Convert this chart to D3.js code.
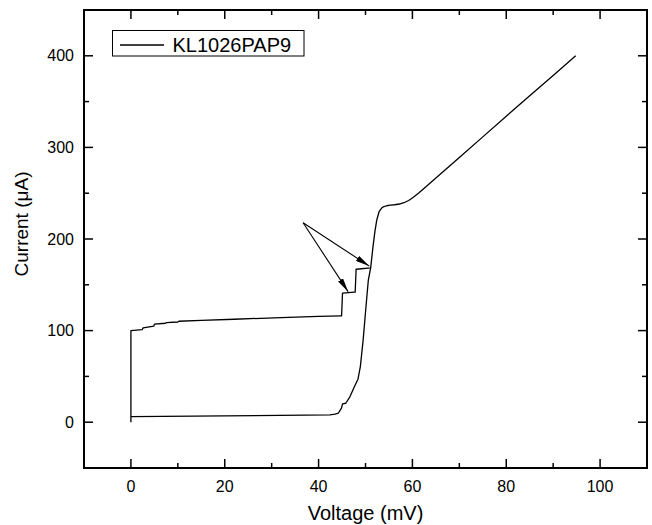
<!DOCTYPE html>
<html>
<head>
<meta charset="utf-8">
<script src="https://cdn.jsdelivr.net/npm/d3@7"></script>
<style>
  body { margin: 0; background: #fff; }
  svg text { font-family: "Liberation Sans", Arial, sans-serif; fill: #000; }
</style>
</head>
<body>
<div id="chart"></div>
<script>
/* sweep with the supercurrent + step branch, then the resistive branch */
const upVoltage = [0, 0, 2.4, 2.6, 4.9, 5.0, 7.4, 7.5, 10.0, 10.2, 15, 22, 32, 40, 44.7,
    44.9, 45.1, 47.6, 47.8, 48.0, 51.1, 51.6, 52.0, 52.4, 52.9, 53.4, 53.8, 54.5, 55.3, 56.2,
    57.2, 58.2, 59.2, 60.2, 61.4, 63, 65, 70, 75, 80, 85, 90, 94.8];
const upCurrent = [0, 100, 101, 103, 105, 107, 108, 108.8, 109.4, 110.2, 111.2, 112.4, 114.2, 115.5, 116,
    116, 141, 142, 142, 167, 168.4, 191.6, 208, 220.7, 229.8, 233.5, 235.2, 236.3, 236.9, 237.4,
    238.2, 239.6, 242, 245.5, 250.5, 257.5, 266.5, 289, 311.5, 334, 356.5, 378.5, 400];

/* lower (return) branch */
const downVoltage = [0, 20, 42.4, 43.5, 44.2, 44.9, 45.1, 45.8, 46.7, 47.7, 48.4, 48.9, 49.5, 50.1, 50.6, 51.1];
const downCurrent = [6.1, 6.8, 8, 8.8, 9.8, 15.6, 20, 20.7, 28, 39.6, 46.9, 60.7, 89.8, 126, 155, 168.4];

const xTicks = [0, 20, 40, 60, 80, 100];
const yTicks = [0, 100, 200, 300, 400];
const seriesName = 'KL1026PAP9';

/* arrows pointing at the two steps: from [V, I] to [V, I] */
const arrowFrom = [36.7, 217.8];
const arrowTips = [[46.3, 142.5], [50.8, 170.4]];

const wSvg = 652, hSvg = 525;
const margin = { left: 84, right: 5, top: 10, bottom: 57 };

const svg = d3.select('#chart').append('svg')
    .attr('width', wSvg)
    .attr('height', hSvg);

const xScale = d3.scaleLinear([-10, 110], [margin.left, wSvg - margin.right]);
const yScale = d3.scaleLinear([-50, 450], [hSvg - margin.bottom, margin.top]);

const majorLen = 9, minorLen = 5;
const xMinor = d3.range(10, 101, 20);
const yMinor = d3.range(50, 351, 100);

// ticks on all four sides, pointing inward
const tickG = svg.append('g').attr('stroke', '#000').attr('stroke-width', 1.5);
const x0 = xScale.range()[0], x1 = xScale.range()[1];
const y0 = yScale.range()[0], y1 = yScale.range()[1];

xTicks.concat(xMinor).forEach(v => {
    const len = xTicks.includes(v) ? majorLen : minorLen;
    const x = xScale(v);
    tickG.append('line').attr('x1', x).attr('x2', x).attr('y1', y0).attr('y2', y0 - len);
    tickG.append('line').attr('x1', x).attr('x2', x).attr('y1', y1).attr('y2', y1 + len);
});
yTicks.concat(yMinor).forEach(v => {
    const len = yTicks.includes(v) ? majorLen : minorLen;
    const y = yScale(v);
    tickG.append('line').attr('x1', x0).attr('x2', x0 + len).attr('y1', y).attr('y2', y);
    tickG.append('line').attr('x1', x1).attr('x2', x1 - len).attr('y1', y).attr('y2', y);
});

// frame
svg.append('rect')
    .attr('x', x0).attr('y', y1)
    .attr('width', x1 - x0).attr('height', y0 - y1)
    .attr('fill', 'none').attr('stroke', '#000').attr('stroke-width', 2);

// tick labels
svg.append('g').selectAll('text')
    .data(xTicks)
    .enter().append('text')
        .attr('x', d => xScale(d))
        .attr('y', y0 + 24)
        .attr('text-anchor', 'middle')
        .style('font-size', '16px')
        .text(d => d);

svg.append('g').selectAll('text')
    .data(yTicks)
    .enter().append('text')
        .attr('x', x0 - 10)
        .attr('y', d => yScale(d) + 5.5)
        .attr('text-anchor', 'end')
        .style('font-size', '16px')
        .text(d => d);

// axis titles
svg.append('text')
    .attr('x', (x0 + x1) / 2)
    .attr('y', 520)
    .attr('text-anchor', 'middle')
    .style('font-size', '20px')
    .text('Voltage (mV)');

svg.append('text')
    .attr('transform', 'translate(28, 224) rotate(-90)')
    .attr('text-anchor', 'middle')
    .style('font-size', '19px')
    .text('Current (\u03BCA)');

// curves
const line = d3.line()
    .x(d => xScale(d[0]))
    .y(d => yScale(d[1]));

const upData = upVoltage.map((v, i) => [v, upCurrent[i]]);
const downData = downVoltage.map((v, i) => [v, downCurrent[i]]);

svg.append('path')
    .datum(upData)
    .attr('d', line)
    .attr('fill', 'none').attr('stroke', '#000').attr('stroke-width', 1.3)
    .attr('stroke-linejoin', 'round');

svg.append('path')
    .datum(downData)
    .attr('d', line)
    .attr('fill', 'none').attr('stroke', '#000').attr('stroke-width', 1.3)
    .attr('stroke-linejoin', 'round');

// arrows
svg.append('defs').append('marker')
    .attr('id', 'head')
    .attr('viewBox', '0 0 14 6')
    .attr('refX', 14).attr('refY', 3)
    .attr('markerWidth', 14).attr('markerHeight', 6)
    .attr('markerUnits', 'userSpaceOnUse')
    .attr('orient', 'auto')
  .append('path')
    .attr('d', 'M0,0 L14,3 L0,6 Z')
    .attr('fill', '#000');

svg.append('g').selectAll('line')
    .data(arrowTips)
    .enter().append('line')
        .attr('x1', xScale(arrowFrom[0]))
        .attr('y1', yScale(arrowFrom[1]))
        .attr('x2', d => xScale(d[0]))
        .attr('y2', d => yScale(d[1]))
        .attr('stroke', '#000').attr('stroke-width', 1.1)
        .attr('marker-end', 'url(#head)');

// legend
const legend = svg.append('g');
legend.append('rect')
    .attr('x', 112.5).attr('y', 30.5)
    .attr('width', 191.5).attr('height', 25.5)
    .attr('fill', '#fff').attr('stroke', '#000').attr('stroke-width', 1);
legend.append('line')
    .attr('x1', 120).attr('x2', 164)
    .attr('y1', 45).attr('y2', 45)
    .attr('stroke', '#000').attr('stroke-width', 1.3);
legend.append('text')
    .attr('x', 172.5).attr('y', 51.5)
    .style('font-size', '20px')
    .text(seriesName);
</script>
</body>
</html>
